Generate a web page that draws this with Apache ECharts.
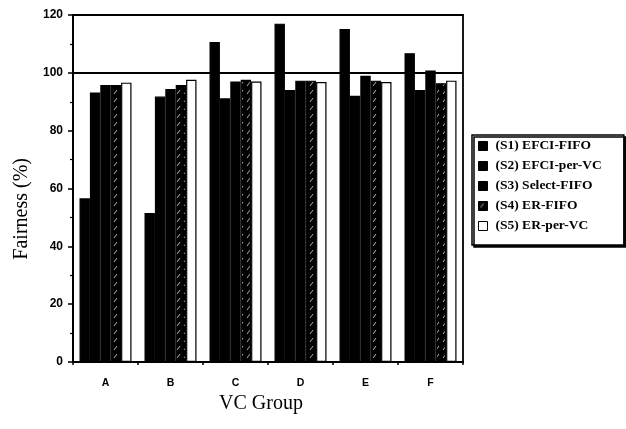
<!DOCTYPE html>
<html>
<head>
<meta charset="utf-8">
<script src="https://cdn.jsdelivr.net/npm/echarts@6/dist/echarts.min.js"></script>
<style>
  html, body { margin: 0; padding: 0; background: #fff; }
  #chart { width: 626px; height: 429px; }
</style>
</head>
<body>
<div id="chart"></div>
<script>
// VC groups on the x axis
const groups = ['A', 'B', 'C', 'D', 'E', 'F'];

// Fairness (%) per scheme
const s1EfciFifo  = [56.6, 51.5, 110.7, 117.0, 115.2, 106.8];
const s2EfciPerVc = [93.2, 91.8, 91.2, 94.1, 92.1, 94.1];
const s3SelFifo   = [95.8, 94.4, 97.0, 97.3, 99.0, 100.8];
const s4ErFifo    = [95.8, 95.8, 97.6, 97.3, 97.3, 96.4];
const s5ErPerVc   = [96.6, 97.6, 97.0, 96.8, 96.8, 97.3];

const seriesNames = ['(S1) EFCI-FIFO', '(S2) EFCI-per-VC', '(S3) Select-FIFO', '(S4) ER-FIFO', '(S5) ER-per-VC'];
const yTicks = [0, 20, 40, 60, 80, 100, 120];
const referenceLevel = 100;

// dark fill with sparse light diagonal strokes for the ER-FIFO bars
function hatchPattern() {
  const c = document.createElement('canvas');
  c.width = 7; c.height = 8;
  const g = c.getContext('2d');
  g.fillStyle = '#000';
  g.fillRect(0, 0, 7, 8);
  g.strokeStyle = '#b0b0b0';
  g.lineWidth = 1;
  g.beginPath();
  g.moveTo(2, 6); g.lineTo(5, 2);
  g.stroke();
  return { image: c, repeat: 'repeat' };
}

const fills = ['#000', '#000', '#000', hatchPattern(), '#fff'];
const valueSets = [s1EfciFifo, s2EfciPerVc, s3SelFifo, s4ErFifo, s5ErPerVc];

const chart = echarts.init(document.getElementById('chart'), null, { renderer: 'canvas' });

const series = valueSets.map((vals, i) => {
  const s = {
    name: seriesNames[i],
    type: 'bar',
    data: vals,
    barGap: '0%',
    barCategoryGap: '20%',
    itemStyle: { color: fills[i], borderColor: '#000', borderWidth: 1.2 },
    emphasis: { disabled: true }
  };
  if (i === 0) {
    s.markLine = {
      silent: true,
      symbol: 'none',
      label: { show: false },
      lineStyle: { color: '#000', width: 1.8, type: 'solid' },
      data: [{ yAxis: referenceLevel }]
    };
  }
  return s;
});

chart.setOption({
  animation: false,
  backgroundColor: '#fff',
  grid: {
    left: 73, right: 163, top: 15, bottom: 67,
    show: true, borderColor: '#000', borderWidth: 1.8, backgroundColor: 'transparent'
  },
  legend: {
    orient: 'vertical',
    left: 472, top: 135,
    data: seriesNames,
    itemWidth: 9, itemHeight: 9, itemGap: 6,
    padding: [4, 22, 12, 6],
    backgroundColor: '#fff',
    borderColor: '#000', borderWidth: 1.5,
    shadowColor: '#000', shadowOffsetX: 2, shadowOffsetY: 2, shadowBlur: 0,
    icon: 'rect',
    itemStyle: { borderColor: '#000', borderWidth: 1 },
    textStyle: {
      fontFamily: 'Liberation Serif', fontWeight: 'bold', fontSize: 13.5,
      color: '#000', lineHeight: 14, padding: [0, 0, 0, 3]
    }
  },
  xAxis: {
    type: 'category',
    data: groups,
    axisLine: { lineStyle: { color: '#000', width: 2 } },
    axisTick: { show: true, alignWithLabel: false, length: 3, lineStyle: { color: '#000', width: 1.5 } },
    axisLabel: {
      margin: 16, color: '#000', fontFamily: 'Liberation Sans',
      fontWeight: 'bold', fontSize: 10.5
    }
  },
  yAxis: {
    type: 'value',
    min: yTicks[0], max: yTicks[yTicks.length - 1], interval: 20,
    axisLine: { show: true, lineStyle: { color: '#000', width: 2 } },
    axisTick: { show: true, length: 5, lineStyle: { color: '#000', width: 1.5 } },
    minorTick: { show: true, splitNumber: 2, length: 3, lineStyle: { color: '#000', width: 1.2 } },
    splitLine: { show: false },
    axisLabel: {
      margin: 10, color: '#000', fontFamily: 'Liberation Sans',
      fontWeight: 'bold', fontSize: 12
    }
  },
  graphic: [
    {
      type: 'text', left: 12, top: 158, rotation: Math.PI / 2,
      style: {
        text: 'Fairness (%)', fontFamily: 'Liberation Serif', fontSize: 20,
        fill: '#000'
      }
    },
    {
      type: 'text', left: 219, top: 394,
      style: {
        text: 'VC Group', fontFamily: 'Liberation Serif', fontSize: 20,
        fill: '#000'
      }
    }
  ],
  series: series
});
</script>
</body>
</html>
